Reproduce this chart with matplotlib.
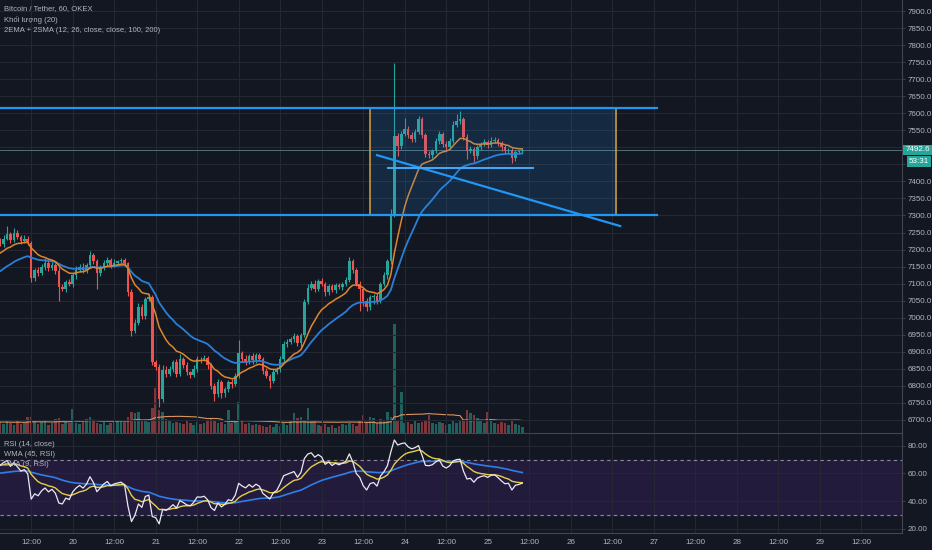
import matplotlib
matplotlib.use("Agg")
import matplotlib.pyplot as plt
import numpy as np

plt.rcParams["font.family"] = ["Liberation Sans", "DejaVu Sans"]

# hourly candles, first one = 19th 03:00, last one = 25th 10:00
start_hour = 3
first_open = 7225
closes = [
    7215, 7232, 7245, 7228, 7250, 7238, 7225, 7232, 7220, 7118,
    7140, 7130, 7150, 7162, 7145, 7155, 7138, 7090, 7085, 7105,
    7098, 7125, 7140, 7150, 7140, 7155, 7185, 7165, 7130, 7145,
    7160, 7170, 7155, 7162, 7165, 7168, 7160, 7075, 6962, 6985,
    7030, 7005, 7055, 7062, 6870, 6855, 6762, 6848, 6835, 6850,
    6870, 6835, 6880, 6862, 6840, 6832, 6850, 6880, 6878, 6883,
    6860, 6800, 6775, 6810, 6778, 6790, 6812, 6805, 6830, 6895,
    6880, 6870, 6888, 6875, 6890, 6880, 6845, 6830, 6815, 6840,
    6850, 6880, 6922, 6930, 6938, 6945, 6925, 6950, 7045, 7088,
    7100, 7085, 7108, 7100, 7075, 7092, 7080, 7095, 7090, 7100,
    7112, 7165, 7140, 7100, 7085, 7050, 7030, 7060, 7065, 7050,
    7100, 7125, 7165, 7300, 7533, 7505, 7538, 7555, 7535, 7525,
    7545, 7582, 7536, 7480, 7478, 7488, 7518, 7540, 7510, 7500,
    7520, 7565, 7578, 7582, 7530, 7490, 7495, 7475, 7500, 7510,
    7515, 7508, 7520, 7522, 7512, 7500, 7490, 7492, 7468, 7485,
    7488, 7492.6,
]
up_wick = [
    8, 10, 25, 6, 12, 8, 5, 10, 7, 5,
    6, 10, 8, 12, 5, 8, 6, 10, 8, 7,
    9, 6, 12, 8, 10, 6, 10, 5, 8, 10,
    8, 7, 6, 10, 5, 8, 6, 4, 8, 10,
    12, 10, 6, 8, 5, 6, 8, 12, 10, 8,
    7, 10, 13, 6, 8, 5, 10, 8, 6, 8,
    5, 6, 8, 10, 7, 8, 6, 9, 8, 40,
    8, 10, 6, 8, 6, 7, 5, 8, 6, 9,
    6, 8, 10, 8, 6, 9, 8, 6, 10, 12,
    8, 10, 6, 8, 6, 7, 8, 6, 8, 5,
    8, 12, 6, 5, 8, 6, 7, 8, 6, 8,
    6, 10, 8, 20, 215, 8, 10, 30, 8, 10,
    8, 10, 6, 5, 8, 6, 10, 8, 6, 10,
    8, 12, 20, 25, 6, 8, 10, 6, 8, 6,
    8, 6, 10, 8, 5, 6, 8, 6, 5, 8,
    5, 4,
]
down_wick = [
    6, 8, 5, 10, 6, 8, 10, 6, 8, 12,
    10, 8, 6, 10, 8, 6, 10, 40, 8, 10,
    6, 8, 10, 6, 8, 10, 6, 8, 45, 8,
    6, 8, 10, 6, 8, 5, 8, 10, 15, 8,
    6, 10, 8, 6, 10, 8, 25, 10, 8, 6,
    10, 8, 6, 10, 8, 10, 6, 8, 10, 6,
    10, 8, 20, 8, 15, 10, 8, 10, 6, 8,
    10, 8, 6, 10, 8, 6, 10, 8, 20, 8,
    6, 8, 10, 8, 6, 10, 8, 10, 8, 6,
    8, 10, 6, 8, 10, 8, 6, 8, 6, 8,
    6, 8, 10, 8, 65, 15, 10, 8, 20, 10,
    6, 8, 10, 8, 5, 30, 10, 6, 8, 10,
    8, 6, 10, 8, 10, 8, 6, 8, 10, 8,
    6, 8, 6, 10, 8, 25, 8, 17, 10, 8,
    6, 10, 8, 6, 8, 10, 8, 6, 15, 8,
    6, 4,
]
volume = [
    11, 9, 12, 10, 8, 13, 9, 10, 16, 16,
    12, 9, 11, 13, 8, 10, 14, 15, 9, 11,
    10, 24, 10, 9, 12, 14, 16, 13, 10, 9,
    11, 8, 10, 12, 13, 12, 11, 16, 21, 20,
    21, 12, 13, 11, 25, 45, 23, 21, 14, 12,
    10, 11, 10, 9, 12, 10, 8, 11, 9, 10,
    13, 14, 12, 10, 11, 9, 23, 10, 12, 31,
    12, 9, 10, 8, 9, 8, 7, 6, 8, 6,
    9, 7, 10, 8, 12, 20, 15, 16, 12, 25,
    12, 13, 8, 7, 9, 6, 8, 5, 7, 9,
    8, 10, 9, 7, 12, 18, 11, 16, 15, 10,
    14, 12, 21, 16, 109, 12, 41, 10, 11, 9,
    12, 10, 11, 13, 18, 10, 9, 11, 10, 8,
    9, 13, 10, 12, 14, 23, 20, 18, 15, 12,
    10, 21, 12, 10, 9, 11, 10, 8, 12, 9,
    8, 6,
]

# indicator starting values (from the left edge of the picture)
ema_fast_seed, ema_slow_seed = 7185, 7130
rsi_gain_seed, rsi_loss_seed = 15, 7
wma_seed = 60
vol_ma_seed = 11

# drawings
box_hours = (110, 181)
box_prices = (7301, 7615)
levels = [7615, 7301]
level_end = 193
trend_hours = [112, 182.3]
trend_prices = [7477, 7269]
support_hours = [115.2, 157.1]
support_price = 7439
last_price = 7492.6
countdown = "53:31"

BG = "#131722"
GRID = "#242833"
SEP = "#434651"
TXT = "#b2b5be"
UP = "#26a69a"
DOWN = "#ef5350"
FS = 5.8


def ema(vals, n, seed):
    a = 2 / (n + 1)
    e = seed
    out = []
    for v in vals:
        e = e + a * (v - e)
        out.append(e)
    return np.array(out)


def rsi(vals, n, g, l, prev):
    out = []
    for v in vals:
        d = v - prev
        g = (g * (n - 1) + max(d, 0)) / n
        l = (l * (n - 1) + max(-d, 0)) / n
        out.append(100 - 100 / (1 + g / l))
        prev = v
    return np.array(out)


def wma(vals, n, seed):
    padded = np.concatenate([np.full(n - 1, seed), vals])
    w = np.arange(1, n + 1)
    return np.array([np.dot(padded[i:i + n], w) / w.sum() for i in range(len(vals))])


c = np.array(closes, dtype=float)
o = np.concatenate([[first_open], c[:-1]])
hi = np.maximum(o, c) + np.array(up_wick)
lo = np.minimum(o, c) - np.array(down_wick)
vol = np.array(volume, dtype=float)
hours = start_hour + np.arange(len(c))
up = c >= o
colors = np.where(up, UP, DOWN)

ema12 = ema(c, 12, ema_fast_seed)
ema26 = ema(c, 26, ema_slow_seed)
r = rsi(c, 14, rsi_gain_seed, rsi_loss_seed, first_open)
r_wma = wma(r, 45, wma_seed)
r_ema = ema(r, 9, r[0])
vpad = np.concatenate([np.full(19, vol_ma_seed), vol])
vol_ma = np.array([vpad[i:i + 20].mean() for i in range(len(vol))])

fig = plt.figure(figsize=(9.32, 5.5), dpi=100, facecolor=BG)
ax_v = fig.add_axes([0, 117 / 550, 902 / 932, 433 / 550])
ax = fig.add_axes([0, 117 / 550, 902 / 932, 433 / 550], sharex=ax_v)
ax_r = fig.add_axes([0, 17 / 550, 902 / 932, 100 / 550], sharex=ax_v)
ax_v.set_facecolor(BG)
ax.patch.set_visible(False)
ax_r.set_facecolor(BG)

xmin, xmax = 2.98, 263.8
ax.set_xlim(xmin, xmax)

# volume
ax_v.bar(hours, vol, width=0.75, color=np.where(up, "#1f615d", "#7e363b"), zorder=1)
ax_v.plot(hours, vol_ma, color="#d9955f", lw=0.8, zorder=2)
ax_v.set_ylim(0, 433)
ax_v.axis("off")

# price pane
ax.set_ylim(6661.7, 7932.3)
ax.vlines(hours, lo, hi, color=colors, lw=0.8, zorder=3)
ax.bar(hours, np.maximum(np.abs(c - o), 1.5), bottom=np.minimum(o, c), width=0.75,
       color=colors, zorder=3)
ax.plot(hours, ema26, color="#2a7fd8", lw=1.3, zorder=4)
ax.plot(hours, ema12, color="#e0862a", lw=1.1, zorder=4)

ax.fill_between(box_hours, box_prices[0], box_prices[1], color="#2196f3", alpha=0.15, zorder=5)
ax.plot([box_hours[0], box_hours[1], box_hours[1], box_hours[0], box_hours[0]],
        [box_prices[0], box_prices[0], box_prices[1], box_prices[1], box_prices[0]],
        color="#d4a23c", lw=1.1, zorder=6)
for lv in levels:
    ax.plot([xmin, level_end], [lv, lv], color="#2196f3", lw=1.6, zorder=7)
ax.plot(trend_hours, trend_prices, color="#2196f3", lw=1.6, zorder=7)
ax.plot(support_hours, [support_price, support_price], color="#42a5f5", lw=1.5, zorder=7)
ax.axhline(last_price, color="#5d7f86", lw=0.6, zorder=2)

price_ticks = np.arange(6700, 7901, 50)
ax.yaxis.tick_right()
ax.set_yticks(price_ticks)
ax.set_yticklabels(["" if p in (7450, 7500) else f"{p:.1f}" for p in price_ticks])
ax.tick_params(axis="y", length=2.5, width=0.6, color=SEP, pad=1.5, labelsize=FS, labelcolor=TXT)

ax.text(1.0035, last_price, f"{last_price:.1f}", transform=ax.get_yaxis_transform(),
        va="center", ha="left", fontsize=FS, color="white", clip_on=False,
        bbox=dict(boxstyle="square,pad=0.22", fc=UP, ec="none"), zorder=10)
ax.annotate(countdown, xy=(1.0, last_price), xycoords=ax.get_yaxis_transform(),
            xytext=(5, -8.3), textcoords="offset points", va="center", ha="left",
            fontsize=FS, color="white", annotation_clip=False,
            bbox=dict(boxstyle="square,pad=0.22", fc=UP, ec="none"), zorder=10)

# time ticks
ticks = np.arange(12, 253, 12)
labels = ["12:00" if t % 24 == 12 else str(19 + t // 24) for t in ticks]
ax.set_xticks(ticks)
ax.tick_params(axis="x", length=0, labelbottom=False)
ax.grid(True, color=GRID, lw=0.8, zorder=0)

for a in (ax, ax_r):
    for s in a.spines.values():
        s.set_visible(False)
    a.spines["right"].set_visible(True)
    a.spines["right"].set_color(SEP)
ax_r.spines["top"].set_visible(True)
ax_r.spines["top"].set_color(SEP)
ax_r.spines["bottom"].set_visible(True)
ax_r.spines["bottom"].set_color(SEP)

# RSI pane
ax_r.set_ylim(17.1, 89.2)
ax_r.axhspan(30, 70, color="#231b3c", zorder=0)
ax_r.axhline(70, color="#8a8d98", lw=0.8, ls=(0, (3, 3)), zorder=1)
ax_r.axhline(30, color="#8a8d98", lw=0.8, ls=(0, (3, 3)), zorder=1)
ax_r.plot(hours, r_wma, color="#2f7ee8", lw=1.2, zorder=3)
ax_r.plot(hours, r_ema, color="#e3cf4a", lw=1.0, zorder=3)
ax_r.plot(hours, r, color="#ece8f4", lw=0.9, zorder=4)
ax_r.yaxis.tick_right()
ax_r.set_yticks([20, 40, 60, 80])
ax_r.set_yticklabels([f"{v:.2f}" for v in [20, 40, 60, 80]])
ax_r.tick_params(axis="y", length=2.5, width=0.6, color=SEP, pad=1.5, labelsize=FS, labelcolor=TXT)
ax_r.set_xticks(ticks)
ax_r.set_xticklabels(labels)
ax_r.tick_params(axis="x", length=0, pad=4, labelsize=FS, labelcolor=TXT)
ax_r.grid(True, color=GRID, lw=0.8, zorder=0)
ax_r.set_axisbelow(True)
ax_r.set_xlim(xmin, xmax)

# legends
for i, t in enumerate(["Bitcoin / Tether, 60, OKEX", "Khối lượng (20)",
                       "2EMA + 2SMA (12, 26, close, close, 100, 200)"]):
    fig.text(4 / 932, 1 - (9 + 11 * i) / 550, t, fontsize=5.5, color=TXT, va="center")
for i, t in enumerate(["RSI (14, close)", "WMA (45, RSI)", "EMA (9, RSI)"]):
    fig.text(4 / 932, 1 - (444 + 10 * i) / 550, t, fontsize=5.5, color=TXT, va="center")

fig.savefig("out.png", dpi=100, facecolor=BG)
